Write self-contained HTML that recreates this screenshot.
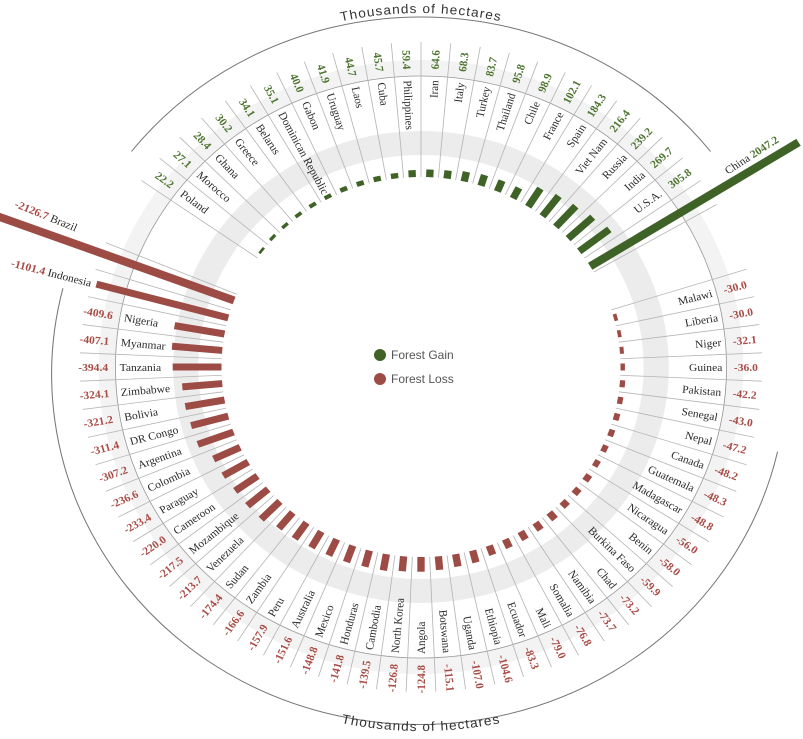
<!DOCTYPE html>
<html><head><meta charset="utf-8"><style>
html,body{margin:0;padding:0;background:#fff;}
svg{display:block;}
.n{font-family:"Liberation Serif",serif;font-size:11px;fill:#2a2a2a;}
.g{font-family:"Liberation Serif",serif;font-size:11px;font-weight:bold;fill:#4e7530;}
.r{font-family:"Liberation Serif",serif;font-size:11px;font-weight:bold;fill:#a84c46;}
.sep line{stroke:#b5b5b5;stroke-width:0.8;}
.gb rect{fill:#3f6226;}
.rb rect{fill:#9c4b45;}
</style></head><body>
<svg width="803" height="739" viewBox="0 0 803 739" xmlns="http://www.w3.org/2000/svg">
<rect width="803" height="739" fill="#fff"/>
<g transform="translate(421,367) scale(1.05,1)">
<circle r="224" fill="none" stroke="#ececec" stroke-width="24"/>
<circle r="299" fill="none" stroke="#f3f3f3" stroke-width="16"/>
<circle r="291" fill="none" stroke="#999" stroke-width="0.8"/>
<path d="M-275.8,-215.5 A350,350 0 0 1 275.8,-215.5" fill="none" stroke="#777" stroke-width="1"/>
<path d="M339.6,84.7 A350,350 0 1 1 -341.0,-78.7" fill="none" stroke="#777" stroke-width="1"/>
<path id="tp" d="M-227.5,-271.2 A354,354 0 0 1 227.5,-271.2" fill="none"/>
<path id="bp" d="M-234,278.8 A364,364 0 0 0 234,278.8" fill="none"/>
<text font-family="Liberation Sans,sans-serif" font-size="13" letter-spacing="1" fill="#333"><textPath href="#tp" startOffset="50%" text-anchor="middle">Thousands of hectares</textPath></text>
<text font-family="Liberation Sans,sans-serif" font-size="13" letter-spacing="1" fill="#333"><textPath href="#bp" startOffset="50%" text-anchor="middle">Thousands of hectares</textPath></text>
<g class="sep">
<line y1="-190" y2="-325" transform="rotate(-55)"/><line y1="-190" y2="-325" transform="rotate(-50)"/><line y1="-190" y2="-325" transform="rotate(-45)"/><line y1="-190" y2="-325" transform="rotate(-40)"/><line y1="-190" y2="-325" transform="rotate(-35)"/><line y1="-190" y2="-325" transform="rotate(-30)"/><line y1="-190" y2="-325" transform="rotate(-25)"/><line y1="-190" y2="-325" transform="rotate(-20)"/><line y1="-190" y2="-325" transform="rotate(-15)"/><line y1="-190" y2="-325" transform="rotate(-10)"/><line y1="-190" y2="-325" transform="rotate(-5)"/><line y1="-190" y2="-325" transform="rotate(0)"/><line y1="-190" y2="-325" transform="rotate(5)"/><line y1="-190" y2="-325" transform="rotate(10)"/><line y1="-190" y2="-325" transform="rotate(15)"/><line y1="-190" y2="-325" transform="rotate(20)"/><line y1="-190" y2="-325" transform="rotate(25)"/><line y1="-190" y2="-325" transform="rotate(30)"/><line y1="-190" y2="-325" transform="rotate(35)"/><line y1="-190" y2="-325" transform="rotate(40)"/><line y1="-190" y2="-325" transform="rotate(45)"/><line y1="-190" y2="-325" transform="rotate(50)"/><line y1="-190" y2="-325" transform="rotate(55)"/><line y1="-190" y2="-325" transform="rotate(60)"/>
<line y1="-190" y2="-325" transform="rotate(72.5)"/><line y1="-190" y2="-325" transform="rotate(77.5)"/><line y1="-190" y2="-325" transform="rotate(82.5)"/><line y1="-190" y2="-325" transform="rotate(87.5)"/><line y1="-190" y2="-325" transform="rotate(92.5)"/><line y1="-190" y2="-325" transform="rotate(97.5)"/><line y1="-190" y2="-325" transform="rotate(102.5)"/><line y1="-190" y2="-325" transform="rotate(107.5)"/><line y1="-190" y2="-325" transform="rotate(112.5)"/><line y1="-190" y2="-325" transform="rotate(117.5)"/><line y1="-190" y2="-325" transform="rotate(122.5)"/><line y1="-190" y2="-325" transform="rotate(127.5)"/><line y1="-190" y2="-325" transform="rotate(132.5)"/><line y1="-190" y2="-325" transform="rotate(137.5)"/><line y1="-190" y2="-325" transform="rotate(142.5)"/><line y1="-190" y2="-325" transform="rotate(147.5)"/><line y1="-190" y2="-325" transform="rotate(152.5)"/><line y1="-190" y2="-325" transform="rotate(157.5)"/><line y1="-190" y2="-325" transform="rotate(162.5)"/><line y1="-190" y2="-325" transform="rotate(167.5)"/><line y1="-190" y2="-325" transform="rotate(172.5)"/><line y1="-190" y2="-325" transform="rotate(177.5)"/><line y1="-190" y2="-325" transform="rotate(182.5)"/><line y1="-190" y2="-325" transform="rotate(187.5)"/><line y1="-190" y2="-325" transform="rotate(192.5)"/><line y1="-190" y2="-325" transform="rotate(197.5)"/><line y1="-190" y2="-325" transform="rotate(202.5)"/><line y1="-190" y2="-325" transform="rotate(207.5)"/><line y1="-190" y2="-325" transform="rotate(212.5)"/><line y1="-190" y2="-325" transform="rotate(217.5)"/><line y1="-190" y2="-325" transform="rotate(222.5)"/><line y1="-190" y2="-325" transform="rotate(227.5)"/><line y1="-190" y2="-325" transform="rotate(232.5)"/><line y1="-190" y2="-325" transform="rotate(237.5)"/><line y1="-190" y2="-325" transform="rotate(242.5)"/><line y1="-190" y2="-325" transform="rotate(247.5)"/><line y1="-190" y2="-325" transform="rotate(252.5)"/><line y1="-190" y2="-325" transform="rotate(257.5)"/><line y1="-190" y2="-325" transform="rotate(262.5)"/><line y1="-190" y2="-325" transform="rotate(267.5)"/><line y1="-190" y2="-325" transform="rotate(272.5)"/><line y1="-190" y2="-325" transform="rotate(277.5)"/><line y1="-190" y2="-325" transform="rotate(282.5)"/><line y1="-190" y2="-325" transform="rotate(287.5)"/><line y1="-190" y2="-325" transform="rotate(292.5)"/>
</g>
<g class="gb">
<rect x="-3.5" y="-192.6" width="7" height="2.6" transform="rotate(-52.5)"/>
<rect x="-3.5" y="-193.2" width="7" height="3.2" transform="rotate(-47.5)"/>
<rect x="-3.5" y="-193.4" width="7" height="3.4" transform="rotate(-42.5)"/>
<rect x="-3.5" y="-193.6" width="7" height="3.6" transform="rotate(-37.5)"/>
<rect x="-3.5" y="-194.0" width="7" height="4.0" transform="rotate(-32.5)"/>
<rect x="-3.5" y="-194.1" width="7" height="4.1" transform="rotate(-27.5)"/>
<rect x="-3.5" y="-194.7" width="7" height="4.7" transform="rotate(-22.5)"/>
<rect x="-3.5" y="-194.9" width="7" height="4.9" transform="rotate(-17.5)"/>
<rect x="-3.5" y="-195.3" width="7" height="5.3" transform="rotate(-12.5)"/>
<rect x="-3.5" y="-195.4" width="7" height="5.4" transform="rotate(-7.5)"/>
<rect x="-3.5" y="-197.0" width="7" height="7.0" transform="rotate(-2.5)"/>
<rect x="-3.5" y="-197.6" width="7" height="7.6" transform="rotate(2.5)"/>
<rect x="-3.5" y="-198.1" width="7" height="8.1" transform="rotate(7.5)"/>
<rect x="-3.5" y="-199.9" width="7" height="9.9" transform="rotate(12.5)"/>
<rect x="-3.5" y="-201.3" width="7" height="11.3" transform="rotate(17.5)"/>
<rect x="-3.5" y="-201.7" width="7" height="11.7" transform="rotate(22.5)"/>
<rect x="-3.5" y="-202.0" width="7" height="12.0" transform="rotate(27.5)"/>
<rect x="-3.5" y="-211.7" width="7" height="21.7" transform="rotate(32.5)"/>
<rect x="-3.5" y="-215.5" width="7" height="25.5" transform="rotate(37.5)"/>
<rect x="-3.5" y="-218.2" width="7" height="28.2" transform="rotate(42.5)"/>
<rect x="-3.5" y="-221.8" width="7" height="31.8" transform="rotate(47.5)"/>
<rect x="-3.5" y="-226.1" width="7" height="36.1" transform="rotate(52.5)"/>
<rect x="-4" y="-424" width="8" height="234" transform="rotate(58)"/>
</g>
<g class="rb">
<rect x="-4" y="-432" width="8" height="242" transform="rotate(290.5)"/>
<rect x="-3.5" y="-320.0" width="7" height="130.0" transform="rotate(285)"/>
<rect x="-3.5" y="-238.3" width="7" height="48.3" transform="rotate(280)"/>
<rect x="-3.5" y="-238.0" width="7" height="48.0" transform="rotate(275)"/>
<rect x="-3.5" y="-236.5" width="7" height="46.5" transform="rotate(270)"/>
<rect x="-3.5" y="-228.2" width="7" height="38.2" transform="rotate(265)"/>
<rect x="-3.5" y="-227.9" width="7" height="37.9" transform="rotate(260)"/>
<rect x="-3.5" y="-226.7" width="7" height="36.7" transform="rotate(255)"/>
<rect x="-3.5" y="-226.2" width="7" height="36.2" transform="rotate(250)"/>
<rect x="-3.5" y="-217.9" width="7" height="27.9" transform="rotate(245)"/>
<rect x="-3.5" y="-217.5" width="7" height="27.5" transform="rotate(240)"/>
<rect x="-3.5" y="-216.0" width="7" height="26.0" transform="rotate(235)"/>
<rect x="-3.5" y="-215.7" width="7" height="25.7" transform="rotate(230)"/>
<rect x="-3.5" y="-215.2" width="7" height="25.2" transform="rotate(225)"/>
<rect x="-3.5" y="-210.6" width="7" height="20.6" transform="rotate(220)"/>
<rect x="-3.5" y="-209.7" width="7" height="19.7" transform="rotate(215)"/>
<rect x="-3.5" y="-208.6" width="7" height="18.6" transform="rotate(210)"/>
<rect x="-3.5" y="-207.9" width="7" height="17.9" transform="rotate(205)"/>
<rect x="-3.5" y="-207.6" width="7" height="17.6" transform="rotate(200)"/>
<rect x="-3.5" y="-206.7" width="7" height="16.7" transform="rotate(195)"/>
<rect x="-3.5" y="-206.5" width="7" height="16.5" transform="rotate(190)"/>
<rect x="-3.5" y="-205.0" width="7" height="15.0" transform="rotate(185)"/>
<rect x="-3.5" y="-204.7" width="7" height="14.7" transform="rotate(180)"/>
<rect x="-3.5" y="-203.6" width="7" height="13.6" transform="rotate(175)"/>
<rect x="-3.5" y="-202.6" width="7" height="12.6" transform="rotate(170)"/>
<rect x="-3.5" y="-202.3" width="7" height="12.3" transform="rotate(165)"/>
<rect x="-3.5" y="-199.8" width="7" height="9.8" transform="rotate(160)"/>
<rect x="-3.5" y="-199.3" width="7" height="9.3" transform="rotate(155)"/>
<rect x="-3.5" y="-199.1" width="7" height="9.1" transform="rotate(150)"/>
<rect x="-3.5" y="-198.7" width="7" height="8.7" transform="rotate(145)"/>
<rect x="-3.5" y="-198.6" width="7" height="8.6" transform="rotate(140)"/>
<rect x="-3.5" y="-197.1" width="7" height="7.1" transform="rotate(135)"/>
<rect x="-3.5" y="-196.8" width="7" height="6.8" transform="rotate(130)"/>
<rect x="-3.5" y="-196.6" width="7" height="6.6" transform="rotate(125)"/>
<rect x="-3.5" y="-195.8" width="7" height="5.8" transform="rotate(120)"/>
<rect x="-3.5" y="-195.7" width="7" height="5.7" transform="rotate(115)"/>
<rect x="-3.5" y="-195.7" width="7" height="5.7" transform="rotate(110)"/>
<rect x="-3.5" y="-195.6" width="7" height="5.6" transform="rotate(105)"/>
<rect x="-3.5" y="-195.1" width="7" height="5.1" transform="rotate(100)"/>
<rect x="-3.5" y="-195.0" width="7" height="5.0" transform="rotate(95)"/>
<rect x="-3.5" y="-194.2" width="7" height="4.2" transform="rotate(90)"/>
<rect x="-3.5" y="-193.8" width="7" height="3.8" transform="rotate(85)"/>
<rect x="-3.5" y="-193.5" width="7" height="3.5" transform="rotate(80)"/>
<rect x="-3.5" y="-193.5" width="7" height="3.5" transform="rotate(75)"/>
</g>
<g transform="rotate(37.5)"><text class="n" x="-287" y="4">Poland</text><text class="g" x="-298" y="4" text-anchor="end">22.2</text></g>
<g transform="rotate(42.5)"><text class="n" x="-287" y="4">Morocco</text><text class="g" x="-298" y="4" text-anchor="end">27.1</text></g>
<g transform="rotate(47.5)"><text class="n" x="-287" y="4">Ghana</text><text class="g" x="-298" y="4" text-anchor="end">28.4</text></g>
<g transform="rotate(52.5)"><text class="n" x="-287" y="4">Greece</text><text class="g" x="-298" y="4" text-anchor="end">30.2</text></g>
<g transform="rotate(57.5)"><text class="n" x="-287" y="4">Belarus</text><text class="g" x="-298" y="4" text-anchor="end">34.1</text></g>
<g transform="rotate(62.5)"><text class="n" x="-287" y="4">Dominican Republic</text><text class="g" x="-298" y="4" text-anchor="end">35.1</text></g>
<g transform="rotate(67.5)"><text class="n" x="-287" y="4">Gabon</text><text class="g" x="-298" y="4" text-anchor="end">40.0</text></g>
<g transform="rotate(72.5)"><text class="n" x="-287" y="4">Uruguay</text><text class="g" x="-298" y="4" text-anchor="end">41.9</text></g>
<g transform="rotate(77.5)"><text class="n" x="-287" y="4">Laos</text><text class="g" x="-298" y="4" text-anchor="end">44.7</text></g>
<g transform="rotate(82.5)"><text class="n" x="-287" y="4">Cuba</text><text class="g" x="-298" y="4" text-anchor="end">45.7</text></g>
<g transform="rotate(87.5)"><text class="n" x="-287" y="4">Philippines</text><text class="g" x="-298" y="4" text-anchor="end">59.4</text></g>
<g transform="rotate(-87.5)"><text class="n" x="287" y="4" text-anchor="end">Iran</text><text class="g" x="298" y="4">64.6</text></g>
<g transform="rotate(-82.5)"><text class="n" x="287" y="4" text-anchor="end">Italy</text><text class="g" x="298" y="4">68.3</text></g>
<g transform="rotate(-77.5)"><text class="n" x="287" y="4" text-anchor="end">Turkey</text><text class="g" x="298" y="4">83.7</text></g>
<g transform="rotate(-72.5)"><text class="n" x="287" y="4" text-anchor="end">Thailand</text><text class="g" x="298" y="4">95.8</text></g>
<g transform="rotate(-67.5)"><text class="n" x="287" y="4" text-anchor="end">Chile</text><text class="g" x="298" y="4">98.9</text></g>
<g transform="rotate(-62.5)"><text class="n" x="287" y="4" text-anchor="end">France</text><text class="g" x="298" y="4">102.1</text></g>
<g transform="rotate(-57.5)"><text class="n" x="287" y="4" text-anchor="end">Spain</text><text class="g" x="298" y="4">184.3</text></g>
<g transform="rotate(-52.5)"><text class="n" x="287" y="4" text-anchor="end">Viet Nam</text><text class="g" x="298" y="4">216.4</text></g>
<g transform="rotate(-47.5)"><text class="n" x="287" y="4" text-anchor="end">Russia</text><text class="g" x="298" y="4">239.2</text></g>
<g transform="rotate(-42.5)"><text class="n" x="287" y="4" text-anchor="end">India</text><text class="g" x="298" y="4">269.7</text></g>
<g transform="rotate(-37.5)"><text class="n" x="287" y="4" text-anchor="end">U.S.A.</text><text class="g" x="298" y="4">305.8</text></g>
<g transform="rotate(-34)"><text class="n" x="350" y="4">China <tspan class="g">2047.2</tspan></text></g>
<g transform="rotate(383)"><text class="n" x="-356" y="4" text-anchor="end"><tspan class="r">-2126.7</tspan> Brazil</text></g>
<g transform="rotate(375)"><text class="n" x="-325" y="4" text-anchor="end"><tspan class="r">-1101.4</tspan> Indonesia</text></g>
<g transform="rotate(370)"><text class="n" x="-287" y="4">Nigeria</text><text class="r" x="-298" y="4" text-anchor="end">-409.6</text></g>
<g transform="rotate(365)"><text class="n" x="-287" y="4">Myanmar</text><text class="r" x="-298" y="4" text-anchor="end">-407.1</text></g>
<g transform="rotate(360)"><text class="n" x="-287" y="4">Tanzania</text><text class="r" x="-298" y="4" text-anchor="end">-394.4</text></g>
<g transform="rotate(355)"><text class="n" x="-287" y="4">Zimbabwe</text><text class="r" x="-298" y="4" text-anchor="end">-324.1</text></g>
<g transform="rotate(350)"><text class="n" x="-287" y="4">Bolivia</text><text class="r" x="-298" y="4" text-anchor="end">-321.2</text></g>
<g transform="rotate(345)"><text class="n" x="-287" y="4">DR Congo</text><text class="r" x="-298" y="4" text-anchor="end">-311.4</text></g>
<g transform="rotate(340)"><text class="n" x="-287" y="4">Argentina</text><text class="r" x="-298" y="4" text-anchor="end">-307.2</text></g>
<g transform="rotate(335)"><text class="n" x="-287" y="4">Colombia</text><text class="r" x="-298" y="4" text-anchor="end">-236.6</text></g>
<g transform="rotate(330)"><text class="n" x="-287" y="4">Paraguay</text><text class="r" x="-298" y="4" text-anchor="end">-233.4</text></g>
<g transform="rotate(325)"><text class="n" x="-287" y="4">Cameroon</text><text class="r" x="-298" y="4" text-anchor="end">-220.0</text></g>
<g transform="rotate(320)"><text class="n" x="-287" y="4">Mozambique</text><text class="r" x="-298" y="4" text-anchor="end">-217.5</text></g>
<g transform="rotate(315)"><text class="n" x="-287" y="4">Venezuela</text><text class="r" x="-298" y="4" text-anchor="end">-213.7</text></g>
<g transform="rotate(310)"><text class="n" x="-287" y="4">Sudan</text><text class="r" x="-298" y="4" text-anchor="end">-174.4</text></g>
<g transform="rotate(305)"><text class="n" x="-287" y="4">Zambia</text><text class="r" x="-298" y="4" text-anchor="end">-166.6</text></g>
<g transform="rotate(300)"><text class="n" x="-287" y="4">Peru</text><text class="r" x="-298" y="4" text-anchor="end">-157.9</text></g>
<g transform="rotate(295)"><text class="n" x="-287" y="4">Australia</text><text class="r" x="-298" y="4" text-anchor="end">-151.6</text></g>
<g transform="rotate(290)"><text class="n" x="-287" y="4">Mexico</text><text class="r" x="-298" y="4" text-anchor="end">-148.8</text></g>
<g transform="rotate(285)"><text class="n" x="-287" y="4">Honduras</text><text class="r" x="-298" y="4" text-anchor="end">-141.8</text></g>
<g transform="rotate(280)"><text class="n" x="-287" y="4">Cambodia</text><text class="r" x="-298" y="4" text-anchor="end">-139.5</text></g>
<g transform="rotate(275)"><text class="n" x="-287" y="4">North Korea</text><text class="r" x="-298" y="4" text-anchor="end">-126.8</text></g>
<g transform="rotate(270)"><text class="n" x="-287" y="4">Angola</text><text class="r" x="-298" y="4" text-anchor="end">-124.8</text></g>
<g transform="rotate(85)"><text class="n" x="287" y="4" text-anchor="end">Botswana</text><text class="r" x="298" y="4">-115.1</text></g>
<g transform="rotate(80)"><text class="n" x="287" y="4" text-anchor="end">Uganda</text><text class="r" x="298" y="4">-107.0</text></g>
<g transform="rotate(75)"><text class="n" x="287" y="4" text-anchor="end">Ethiopia</text><text class="r" x="298" y="4">-104.6</text></g>
<g transform="rotate(70)"><text class="n" x="287" y="4" text-anchor="end">Ecuador</text><text class="r" x="298" y="4">-83.3</text></g>
<g transform="rotate(65)"><text class="n" x="287" y="4" text-anchor="end">Mali</text><text class="r" x="298" y="4">-79.0</text></g>
<g transform="rotate(60)"><text class="n" x="287" y="4" text-anchor="end">Somalia</text><text class="r" x="298" y="4">-76.8</text></g>
<g transform="rotate(55)"><text class="n" x="287" y="4" text-anchor="end">Namibia</text><text class="r" x="298" y="4">-73.7</text></g>
<g transform="rotate(50)"><text class="n" x="287" y="4" text-anchor="end">Chad</text><text class="r" x="298" y="4">-73.2</text></g>
<g transform="rotate(45)"><text class="n" x="287" y="4" text-anchor="end">Burkina Faso</text><text class="r" x="298" y="4">-59.9</text></g>
<g transform="rotate(40)"><text class="n" x="287" y="4" text-anchor="end">Benin</text><text class="r" x="298" y="4">-58.0</text></g>
<g transform="rotate(35)"><text class="n" x="287" y="4" text-anchor="end">Nicaragua</text><text class="r" x="298" y="4">-56.0</text></g>
<g transform="rotate(30)"><text class="n" x="287" y="4" text-anchor="end">Madagascar</text><text class="r" x="298" y="4">-48.8</text></g>
<g transform="rotate(25)"><text class="n" x="287" y="4" text-anchor="end">Guatemala</text><text class="r" x="298" y="4">-48.3</text></g>
<g transform="rotate(20)"><text class="n" x="287" y="4" text-anchor="end">Canada</text><text class="r" x="298" y="4">-48.2</text></g>
<g transform="rotate(15)"><text class="n" x="287" y="4" text-anchor="end">Nepal</text><text class="r" x="298" y="4">-47.2</text></g>
<g transform="rotate(10)"><text class="n" x="287" y="4" text-anchor="end">Senegal</text><text class="r" x="298" y="4">-43.0</text></g>
<g transform="rotate(5)"><text class="n" x="287" y="4" text-anchor="end">Pakistan</text><text class="r" x="298" y="4">-42.2</text></g>
<g transform="rotate(0)"><text class="n" x="287" y="4" text-anchor="end">Guinea</text><text class="r" x="298" y="4">-36.0</text></g>
<g transform="rotate(-5)"><text class="n" x="287" y="4" text-anchor="end">Niger</text><text class="r" x="298" y="4">-32.1</text></g>
<g transform="rotate(-10)"><text class="n" x="287" y="4" text-anchor="end">Liberia</text><text class="r" x="298" y="4">-30.0</text></g>
<g transform="rotate(-15)"><text class="n" x="287" y="4" text-anchor="end">Malawi</text><text class="r" x="298" y="4">-30.0</text></g>
</g>
<circle cx="380" cy="355" r="6" fill="#3f6226"/>
<text x="391" y="359" font-family="Liberation Sans,sans-serif" font-size="12" fill="#555">Forest Gain</text>
<circle cx="380" cy="379" r="6" fill="#9c4b45"/>
<text x="391" y="383" font-family="Liberation Sans,sans-serif" font-size="12" fill="#555">Forest Loss</text>
</svg>
</body></html>
